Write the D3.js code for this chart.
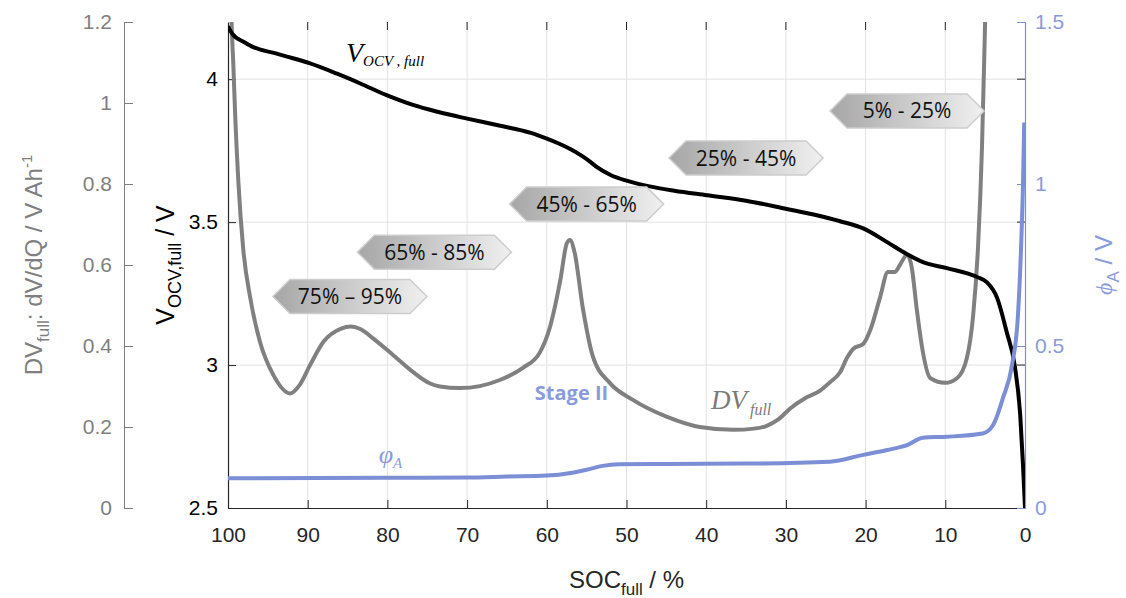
<!DOCTYPE html>
<html>
<head>
<meta charset="utf-8">
<script src="https://cdn.jsdelivr.net/npm/d3@7"></script>
<style>
  html, body { margin: 0; padding: 0; background: #fff; }
  svg { display: block; }
</style>
</head>
<body>
<svg id="chart" width="1126" height="598"></svg>
<script>
// ---------------- data ----------------
const xTicks = [100, 90, 80, 70, 60, 50, 40, 30, 20, 10, 0];
const vTicks = [2.5, 3, 3.5, 4];
const dvTicks = [0, 0.2, 0.4, 0.6, 0.8, 1, 1.2];
const phiTicks = [0, 0.5, 1, 1.5];

// V_OCV,full (SOC %, V)
const vSoc = [100, 99.5, 98, 96.9, 94, 92.6, 89.7, 86.4, 83.4, 80.1, 76.8, 73.7, 70, 66, 62, 60, 58.5, 57, 55.5, 54.5, 53.7, 52, 50, 47.1, 44, 39.9, 35, 29.9, 26, 23.2, 20.3, 17.3, 14.8, 12.8, 9.8, 6, 4.8, 3.5, 2.3, 1.3, 0.6, 0.25, 0];
const vVal = [4.185, 4.16, 4.13, 4.113, 4.09, 4.079, 4.055, 4.02, 3.985, 3.944, 3.91, 3.886, 3.862, 3.838, 3.812, 3.792, 3.775, 3.755, 3.73, 3.71, 3.692, 3.665, 3.645, 3.625, 3.61, 3.594, 3.575, 3.546, 3.523, 3.503, 3.478, 3.43, 3.388, 3.36, 3.339, 3.308, 3.29, 3.235, 3.116, 3.0, 2.825, 2.65, 2.5];

// DV_full (SOC %, V/Ah)
const dvSoc = [99.8, 99.55, 99.33, 99.1, 98.7, 98.1, 97.2, 96.0, 94.3, 92.2, 91.0, 89.7, 88.0, 85.8, 84.6, 83.4, 81.8, 79.3, 76.8, 74.7, 73.4, 70.9, 68.4, 65.9, 63.0, 60.9, 59.6, 58.3, 57.5, 57.1, 56.5, 55.5, 54.2, 52.1, 49.2, 44.9, 40.8, 36.6, 34.0, 32.4, 31.0, 29.5, 27.5, 25.7, 24.5, 23.2, 22.3, 21.5, 20.3, 19.4, 18.2, 17.2, 16.3, 15.7, 14.8, 14.2, 13.6, 12.9, 11.9, 10.0, 8.5, 7.3, 6.5, 5.9, 5.4, 5.0, 4.7];
const dvVal = [1.45, 1.2, 1.094, 0.97, 0.806, 0.642, 0.518, 0.411, 0.328, 0.283, 0.304, 0.353, 0.411, 0.443, 0.448, 0.442, 0.419, 0.378, 0.336, 0.308, 0.30, 0.296, 0.301, 0.316, 0.346, 0.383, 0.447, 0.563, 0.653, 0.662, 0.630, 0.496, 0.373, 0.309, 0.267, 0.225, 0.200, 0.193, 0.196, 0.203, 0.218, 0.245, 0.272, 0.290, 0.310, 0.335, 0.372, 0.394, 0.405, 0.440, 0.519, 0.583, 0.583, 0.600, 0.625, 0.593, 0.494, 0.395, 0.321, 0.309, 0.321, 0.370, 0.477, 0.642, 0.889, 1.205, 1.45];

// phi_A (SOC %, V)
const phiSoc = [100, 80, 70, 65, 60, 57, 55, 53, 51, 45, 35, 24.5, 20.3, 17.3, 14.8, 12.8, 9.8, 5.3, 4.0, 2.76, 1.63, 0.88, 0.5, 0.25, 0.1];
const phiVal = [0.092, 0.093, 0.094, 0.097, 0.100, 0.108, 0.118, 0.130, 0.135, 0.136, 0.137, 0.143, 0.164, 0.179, 0.194, 0.217, 0.220, 0.230, 0.256, 0.340, 0.441, 0.596, 0.800, 1.000, 1.190];

// annotation boxes (SOC %, V position on the left axis)
const boxText = ["75% \u2013 95%", "65% - 85%", "45% - 65%", "25% - 45%", "5% - 25%"];
const boxSoc  = [84.7, 74.1, 55.0, 35.0, 14.8];
const boxV    = [3.24, 3.395, 3.563, 3.724, 3.889];

// ---------------- layout ----------------
const L = 228, R = 1025, T = 22, B = 508;
const svg = d3.select("#chart");

const x = d3.scaleLinear().domain([100, 0]).range([L, R]);
const yV = d3.scaleLinear().domain([2.5, 4.2]).range([B, T]);
const yDV = d3.scaleLinear().domain([0, 1.2]).range([B, T]);
const yPhi = d3.scaleLinear().domain([0, 1.5]).range([B, T]);

const cBlack = "#000000", cGray = "#7f7f7f", cBlue = "#7b8ed6", cBlueTxt = "#8a9bdc";
const numFont = "'Liberation Sans', Arial, Helvetica, sans-serif";
const serif = "'Liberation Serif', 'Times New Roman', serif";

const defs = svg.append("defs");
defs.append("clipPath").attr("id", "plotclip")
  .append("rect").attr("x", L).attr("y", T).attr("width", R - L).attr("height", B - T);

const grad = defs.append("linearGradient").attr("id", "boxgrad")
  .attr("x1", "0%").attr("x2", "100%").attr("y1", "0%").attr("y2", "0%");
grad.append("stop").attr("offset", "0%").attr("stop-color", "#a6a6a6");
grad.append("stop").attr("offset", "100%").attr("stop-color", "#f0f0f0");

// grid
const grid = svg.append("g").attr("stroke", "#e2e2e2").attr("stroke-width", 1);
grid.selectAll("line.vx").data(xTicks.filter(d => d !== 100 && d !== 0)).join("line")
  .attr("x1", d => x(d)).attr("x2", d => x(d)).attr("y1", T).attr("y2", B);
grid.selectAll("line.hy").data(vTicks.filter(d => d !== 2.5)).join("line")
  .attr("x1", L).attr("x2", R).attr("y1", d => yV(d)).attr("y2", d => yV(d));

// bottom axis
const gx = svg.append("g").attr("transform", `translate(0,${B})`)
  .call(d3.axisBottom(x).tickValues(xTicks).tickFormat(d3.format("d"))
    .tickSizeInner(-8).tickSizeOuter(0).tickPadding(19));
gx.select(".domain").attr("stroke", "#262626").attr("stroke-width", 1.2);
gx.selectAll(".tick line").attr("stroke", "#262626");
gx.selectAll("text").attr("font-family", numFont).attr("font-size", 21).attr("fill", "#262626");

// top ticks
svg.append("g").selectAll("line").data(xTicks.filter(d => d !== 100 && d !== 0)).join("line")
  .attr("x1", d => x(d)).attr("x2", d => x(d)).attr("y1", T).attr("y2", T + 8)
  .attr("stroke", "#262626");

// left V axis
const gv = svg.append("g").attr("transform", `translate(${L},0)`)
  .call(d3.axisLeft(yV).tickValues(vTicks).tickFormat(d => d)
    .tickSizeInner(-8).tickSizeOuter(0).tickPadding(10));
gv.select(".domain").attr("stroke", "#262626").attr("stroke-width", 1.2);
gv.selectAll(".tick line").attr("stroke", "#262626");
gv.selectAll("text").attr("font-family", numFont).attr("font-size", 21).attr("fill", "#000");

// right-side V ticks
svg.append("g").selectAll("line").data(vTicks.filter(d => d !== 2.5)).join("line")
  .attr("x1", R - 8).attr("x2", R).attr("y1", d => yV(d)).attr("y2", d => yV(d))
  .attr("stroke", "#262626");

// left DV axis (offset)
const DVX = 124;
const gdv = svg.append("g").attr("transform", `translate(${DVX},0)`)
  .call(d3.axisLeft(yDV).tickValues(dvTicks).tickFormat(d => d)
    .tickSizeInner(-9).tickSizeOuter(-9).tickPadding(12));
gdv.select(".domain").attr("stroke", cGray).attr("stroke-width", 1);
gdv.selectAll(".tick line").attr("stroke", cGray);
gdv.selectAll("text").attr("font-family", numFont).attr("font-size", 21).attr("fill", cGray);

// right phi axis
const gphi = svg.append("g").attr("transform", `translate(${R},0)`)
  .call(d3.axisRight(yPhi).tickValues(phiTicks).tickFormat(d => d)
    .tickSizeInner(-8).tickSizeOuter(-8).tickPadding(10));
gphi.select(".domain").attr("stroke", cBlue).attr("stroke-width", 1.2);
gphi.selectAll(".tick line").attr("stroke", cBlue);
gphi.selectAll("text").attr("font-family", numFont).attr("font-size", 21).attr("fill", cBlueTxt);

// ---------------- curves ----------------
const plot = svg.append("g").attr("clip-path", "url(#plotclip)");
const line = (xs, ys, ysc) => d3.line().curve(d3.curveMonotoneX)
  .x((d, i) => x(xs[i])).y((d, i) => ysc(ys[i]))(xs);

plot.append("path").attr("d", line(dvSoc, dvVal, yDV))
  .attr("fill", "none").attr("stroke", "#808080").attr("stroke-width", 4).attr("stroke-linejoin", "round");
plot.append("path").attr("d", line(vSoc, vVal, yV))
  .attr("fill", "none").attr("stroke", cBlack).attr("stroke-width", 4).attr("stroke-linejoin", "round");
plot.append("path").attr("d", line(phiSoc, phiVal, yPhi))
  .attr("fill", "none").attr("stroke", cBlue).attr("stroke-width", 4).attr("stroke-linejoin", "round");

// ---------------- annotation boxes ----------------
const bw = 154, bh = 34, tip = 17;
const boxes = svg.append("g").selectAll("g").data(boxText).join("g")
  .attr("transform", (d, i) => `translate(${x(boxSoc[i])},${yV(boxV[i])})`);
boxes.append("polygon")
  .attr("points", [[-bw/2, 0], [-bw/2 + tip, -bh/2], [bw/2 - tip, -bh/2], [bw/2, 0], [bw/2 - tip, bh/2], [-bw/2 + tip, bh/2]].map(p => p.join(",")).join(" "))
  .attr("fill", "url(#boxgrad)").attr("stroke", "#cdcdcd").attr("stroke-width", 1.5);
boxes.append("text").text(d => d)
  .attr("text-anchor", "middle").attr("dy", "0.36em")
  .attr("font-family", "'Open Sans', 'Noto Sans', sans-serif").attr("font-size", 21).attr("fill", "#111");

// ---------------- in-plot labels ----------------
const lv = svg.append("text").attr("x", x(85.2)).attr("y", yV(4.0) - 17)
  .attr("font-family", serif).attr("font-style", "italic").attr("fill", "#000").attr("font-size", 28);
lv.append("tspan").text("V");
lv.append("tspan").text("OCV , full").attr("font-size", 15).attr("dy", 4);

const ldv = svg.append("text").attr("x", x(39.4)).attr("y", yDV(0.245))
  .attr("font-family", serif).attr("font-style", "italic").attr("fill", "#7a7a7a").attr("font-size", 27);
ldv.append("tspan").text("DV");
ldv.append("tspan").text("full").attr("font-size", 16).attr("dy", 6).attr("dx", 3);

const lphi = svg.append("text").attr("x", x(81.1)).attr("y", yPhi(0.139))
  .attr("font-family", serif).attr("font-style", "italic").attr("fill", cBlueTxt).attr("font-size", 26);
lphi.append("tspan").text("\u03c6");
lphi.append("tspan").text("A").attr("font-size", 15).attr("dy", 5);

svg.append("text").attr("x", x(61.5)).attr("y", yV(2.878))
  .attr("font-family", "'Open Sans', 'Noto Sans', sans-serif").attr("font-weight", "bold")
  .attr("font-size", 20).attr("fill", cBlueTxt).text("Stage II");

// ---------------- axis titles ----------------
const xt = svg.append("text").attr("x", (L + R) / 2).attr("y", 588)
  .attr("text-anchor", "middle").attr("font-family", numFont).attr("font-size", 24).attr("fill", "#262626");
xt.append("tspan").text("SOC");
xt.append("tspan").text("full").attr("font-size", 17).attr("dy", 7);
xt.append("tspan").text(" / %").attr("dy", -7);

const vt = svg.append("text").attr("transform", `translate(174,${(T + B) / 2}) rotate(-90)`)
  .attr("text-anchor", "middle").attr("font-family", numFont).attr("font-size", 25).attr("fill", "#000");
vt.append("tspan").text("V");
vt.append("tspan").text("OCV,full").attr("font-size", 18).attr("dy", 7);
vt.append("tspan").text(" / V").attr("dy", -7);

const dvt = svg.append("text").attr("transform", `translate(42,${(T + B) / 2}) rotate(-90)`)
  .attr("text-anchor", "middle").attr("font-family", numFont).attr("font-size", 24).attr("fill", cGray);
dvt.append("tspan").text("DV");
dvt.append("tspan").text("full").attr("font-size", 17).attr("dy", 7);
dvt.append("tspan").text(": dV/dQ / V Ah").attr("dy", -7);
dvt.append("tspan").text("-1").attr("font-size", 15).attr("dy", -10);

const pt = svg.append("text").attr("transform", `translate(1112,${(T + B) / 2}) rotate(-90)`)
  .attr("text-anchor", "middle").attr("font-family", numFont).attr("font-size", 24).attr("fill", cBlueTxt);
pt.append("tspan").text("\u03d5").attr("font-family", serif).attr("font-style", "italic");
pt.append("tspan").text("A").attr("font-size", 17).attr("dy", 7);
pt.append("tspan").text(" / V").attr("dy", -7);
</script>
</body>
</html>
